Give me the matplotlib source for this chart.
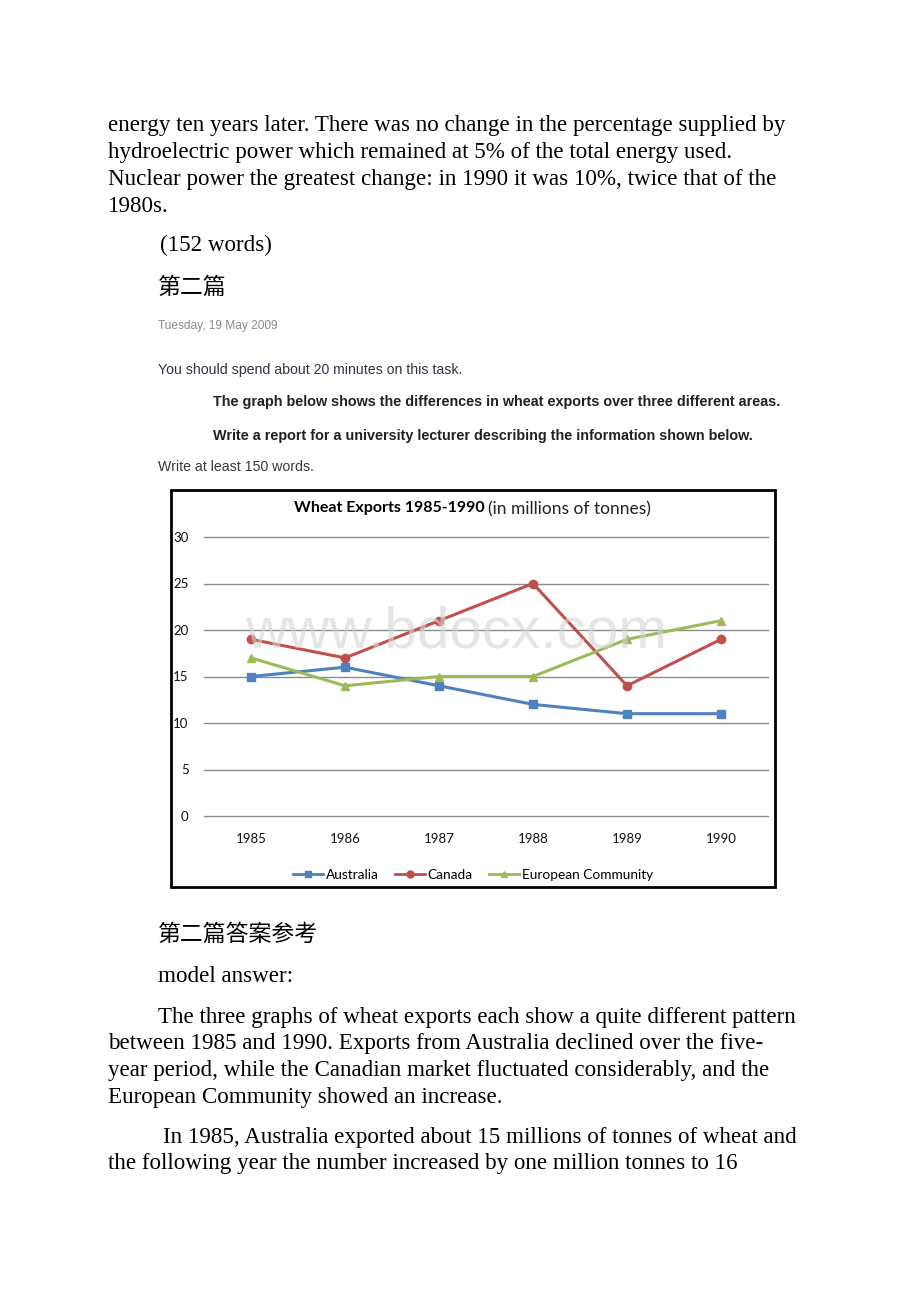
import matplotlib.pyplot as plt
from matplotlib.patches import Rectangle
from matplotlib.lines import Line2D

W, H = 920, 1302

years = ["1985", "1986", "1987", "1988", "1989", "1990"]
australia = [15, 16, 14, 12, 11, 11]
canada = [19, 17, 21, 25, 14, 19]
european = [17, 14, 15, 15, 19, 21]
series_names = ["Australia", "Canada", "European Community"]

intro_lines = [
    "energy ten years later. There was no change in the percentage supplied by",
    "hydroelectric power which remained at 5% of the total energy used.",
    "Nuclear power the greatest change: in 1990 it was 10%, twice that of the",
    "1980s.",
]
answer_lines = [
    "between 1985 and 1990. Exports from Australia declined over the five-",
    "year period, while the Canadian market fluctuated considerably, and the",
    "European Community showed an increase.",
]

fig = plt.figure(figsize=(W / 100, H / 100), dpi=100, facecolor="white")

serif = ["Liberation Serif", "DejaVu Serif"]
cjk = ["Noto Sans CJK SC", "DejaVu Sans"]
arial = ["Liberation Sans", "DejaVu Sans"]
chartfont = ["Lato", "DejaVu Sans"]


def put(x, y, s, **kw):
    # x, y in pixels from the top-left corner
    fig.text(x / W, 1 - y / H, s, va="center", ha=kw.pop("ha", "left"), **kw)


body = dict(family=serif, fontsize=16.6, color="black")
for i, line in enumerate(intro_lines):
    put(108, 126 + i * 26.7, line, **body)
put(160, 245, "(152 words)", **body)
put(158, 287, "第二篇", family=cjk, fontsize=16.5, color="black")

put(158, 326, "Tuesday, 19 May 2009", family=arial, fontsize=8.6, color="#8a8a8a")
put(158, 370, "You should spend about 20 minutes on this task.", family=arial,
    fontsize=10.2, color="#3a2f45")
put(213, 402, "The graph below shows the differences in wheat exports over three different areas.",
    family=arial, fontsize=10.4, weight="bold", color="#222222")
put(213, 436, "Write a report for a university lecturer describing the information shown below.",
    family=arial, fontsize=10.4, weight="bold", color="#222222")
put(158, 467, "Write at least 150 words.", family=arial, fontsize=10.2, color="#3a3a3a")

# chart frame
fig.patches.append(Rectangle((171 / W, 1 - 887 / H), 604 / W, 397 / H,
                             transform=fig.transFigure, fill=False,
                             edgecolor="black", linewidth=2))

ax = fig.add_axes([204 / W, 1 - 816 / H, 564 / W, 279 / H])
x = range(len(years))
ax.plot(x, australia, color="#4F81BD", marker="s", markersize=6, linewidth=2.2, label=series_names[0])
ax.plot(x, canada, color="#C0504D", marker="o", markersize=6, linewidth=2.2, label=series_names[1])
ax.plot(x, european, color="#9BBB59", marker="^", markersize=6, linewidth=2.2, label=series_names[2])
ax.set_xlim(-0.5, len(years) - 0.5)
ax.set_ylim(0, 30)
ax.set_yticks(range(0, 31, 5))
ax.set_xticks(list(x))
ax.set_xticklabels(years)
ax.grid(axis="y", color="#8c8c8c", linewidth=1)
for gl in ax.get_ygridlines():
    gl.set_clip_on(False)
ax.set_axisbelow(True)
for sp in ax.spines.values():
    sp.set_visible(False)
ax.tick_params(length=0, labelsize=9.5, colors="#111111")
ax.tick_params(axis="x", pad=12)
ax.tick_params(axis="y", pad=11)
for lab in ax.get_xticklabels() + ax.get_yticklabels():
    lab.set_family(chartfont)

put(485, 508, "Wheat Exports 1985-1990", ha="right", family=chartfont, fontsize=11.5,
    weight="bold", color="black")
put(488, 509, "(in millions of tonnes)", family=chartfont, fontsize=12.5, color="#222222")

handles = [Line2D([], [], color=c, marker=m, markersize=5, linewidth=2)
           for c, m in zip(["#4F81BD", "#C0504D", "#9BBB59"], ["s", "o", "^"])]
fig.legend(handles, series_names, loc="center", bbox_to_anchor=(473 / W, 1 - 875 / H),
           ncol=3, frameon=False, prop={"family": chartfont, "size": 9.8},
           handlelength=2.2, handletextpad=0.2, columnspacing=1.2)

# watermark
put(456, 632, "www.bdocx.com", ha="center", family=arial, fontsize=42,
    color="#d4d4d4", alpha=0.6)

put(158, 934, "第二篇答案参考", family=cjk, fontsize=16.5, color="black")
put(158, 977, "model answer:", **body)
put(158, 1017, "The three graphs of wheat exports each show a quite different pattern", **body)
for i, line in enumerate(answer_lines):
    put(108, 1044 + i * 26.7, line, **body)
put(163, 1137, "In 1985, Australia exported about 15 millions of tonnes of wheat and", **body)
put(108, 1164, "the following year the number increased by one million tonnes to 16", **body)

fig.savefig("out.png", dpi=100, facecolor="white")
